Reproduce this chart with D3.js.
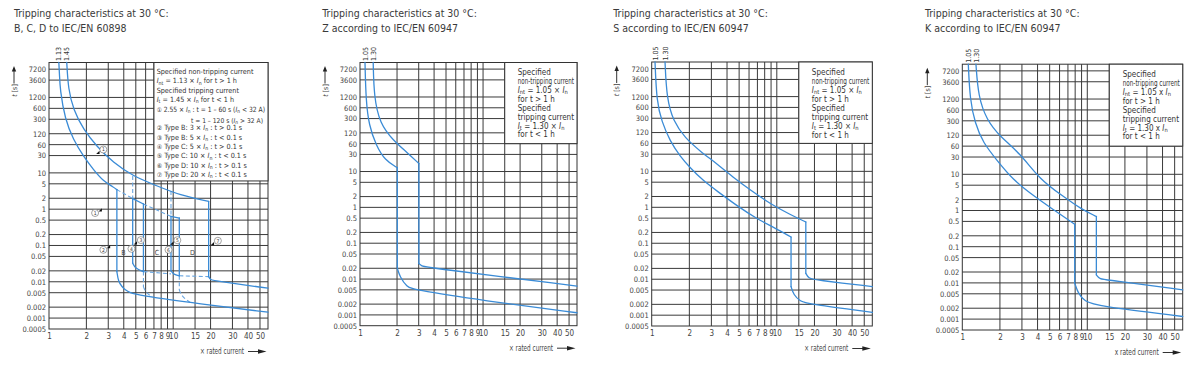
<!DOCTYPE html>
<html lang="en">
<head>
<meta charset="UTF-8">
<title>Tripping characteristics</title>
<script src="https://d3js.org/d3.v7.min.js"></script>
<style>
    body { margin: 0; background: #fff; }
    svg { display: block; font-family: "Liberation Sans Narrow", "Arial Narrow", "DejaVu Sans Condensed", sans-serif; }
    .grid line { stroke: #3a3a3a; stroke-width: 1; }
    .frame { fill: none; stroke: #333; stroke-width: 1; }
    .legendBox { fill: #fff; stroke: #333; stroke-width: 1; }
    .curve { fill: none; stroke: #3a8bd6; stroke-width: 1.3; stroke-linecap: round; }
    .curve.dashed { stroke: #6aa6e0; stroke-width: 1.1; stroke-dasharray: 4 2.5; stroke-linecap: butt; }
    .title { font-size: 10.5px; fill: #3a3a3a; }
    .legend text { fill: #333; }
    .note { font-size: 7px; fill: #444; }
</style>
</head>
<body>
<svg width="1196" height="366"></svg>
<script>
    // ticks shared by all four panels
    const xTicks = [1, 2, 3, 4, 5, 6, 7, 8, 9, 10, 15, 20, 30, 40, 50];
    const yTicks = [7200, 3600, 1200, 600, 300, 120, 60, 30, 10, 5, 2, 1, 0.5, 0.2, 0.1, 0.05, 0.02, 0.01, 0.005, 0.002, 0.001, 0.0005];
    const xDomain = [1, 58];
    const yDomain = [0.0005, 11000];

    const titleLine1 = "Tripping characteristics at 30 °C:";
    const subtitles = ["B, C, D to IEC/EN 60898", "Z according to IEC/EN 60947", "S according to IEC/EN 60947", "K according to IEC/EN 60947"];
    const xAxisNames = ["× rated current", "× rated current", "× rated current", "x rated current"];
    const limitLabels = [["1.13", "1.45"], ["1.05", "1.30"], ["1.05", "1.30"], ["1.05", "1.30"]];

    // [x rated current, t in s]
    // B, C, D
    const bcdNonTrip = [[1.20, 11000], [1.215, 5200], [1.227, 2000], [1.346, 297], [1.57, 83], [1.89, 28.8], [2.28, 12.3], [2.74, 5.9], [3.30, 4.1], [3.52, 3.46],
        [3.52, 0.0191], [3.62, 0.0101], [3.86, 0.0074], [4.10, 0.006], [4.50, 0.005], [5.10, 0.00435], [16.5, 0.00246], [58, 0.00145]];
    const bcdTrip = [[1.39, 11000], [1.43, 2000], [1.57, 561], [1.89, 157], [2.42, 54.3], [3.30, 18.9], [4.78, 8.06], [7.16, 4.6], [11.4, 2.40], [19.3, 1.64],
        [19.3, 0.0139], [19.9, 0.0113], [21.8, 0.0106], [58, 0.00665]];
    const bLeft = [[4.72, 1.95], [4.72, 0.0327], [4.94, 0.0234], [5.76, 0.0191]];
    const bRight = [[5.76, 1.39], [5.76, 0.0191]];
    const bTop = [[4.72, 1.95], [5.76, 1.39]];
    const cLeft = [[9.6, 0.632], [9.6, 0.02], [10.1, 0.0158], [11.2, 0.0146]];
    const cRight = [[11.2, 0.571], [11.2, 0.0146]];
    const cTop = [[9.6, 0.632], [11.2, 0.571]];
    const bcdDashA = [[3.52, 3.46], [4.72, 1.95]];
    const bcdDashB = [[5.76, 1.39], [9.6, 0.632]];
    const bDashUp = [[4.72, 8.2], [4.72, 1.95]];
    const cDashUp = [[9.6, 3.15], [9.6, 0.632]];
    const bcDashBottom = [[5.76, 0.0191], [9.6, 0.0165]];
    const cdDashBottom = [[11.2, 0.0146], [19.3, 0.0139]];
    const bDashDown = [[5.76, 0.0191], [5.76, 0.00723], [6.06, 0.00493], [6.77, 0.00383]];
    const cDashDown = [[11.2, 0.0146], [11.2, 0.00597], [11.8, 0.00383], [13.7, 0.0027]];
    const bcdMarks = [["1", 2.74, 44, "ll"], ["1", 2.35, 0.785, "ur"], ["2", 2.74, 0.076, "ur"], ["4", 4.61, 0.081, ""],
        ["3", 5.49, 0.141, "ll"], ["6", 9.17, 0.076, ""], ["5", 10.8, 0.14, "ll"], ["7", 22.9, 0.135, "ll"]];
    const bcdLetters = [["B", 3.97, 0.066], ["C", 7.39, 0.066], ["D", 14.3, 0.066]];

    // Z
    const zNonTrip = [[1.098, 11000], [1.118, 950], [1.183, 195], [1.35, 54], [1.595, 20.6], [2.01, 12.8],
        [2.01, 0.0199], [2.11, 0.0116], [2.39, 0.0061], [2.79, 0.00493], [13.7, 0.00217], [58, 0.00115]];
    const zTrip = [[1.28, 11000], [1.30, 1196], [1.45, 217], [1.86, 74.5], [2.39, 35.1], [3.01, 16.7],
        [3.01, 0.0273], [3.17, 0.023], [3.47, 0.0212], [58, 0.00638]];

    // S
    const sNonTrip = [[1.063, 11000], [1.096, 869], [1.202, 245], [1.401, 68.8], [1.684, 26.6], [2.025, 12.6], [2.59, 5.44], [3.31, 2.88], [4.79, 1.11], [6.92, 0.479], [9.39, 0.281], [13.0, 0.149],
        [13.0, 0.00625], [13.6, 0.00369], [15.4, 0.00242], [17.9, 0.00205], [58, 0.0012]];
    const sTrip = [[1.278, 11000], [1.318, 1072], [1.489, 245], [1.847, 84.8], [2.435, 36.5], [3.36, 15.7], [4.64, 6.17], [6.11, 3.07], [8.84, 1.26], [12.78, 0.63], [17.06, 0.391],
        [17.06, 0.0146], [17.9, 0.01066], [20.3, 0.00957], [58, 0.00625]];

    // K
    const kNonTrip = [[1.117, 11000], [1.152, 1143], [1.263, 260], [1.47, 72.8], [1.88, 25.2], [2.54, 7.05], [3.67, 2.63], [5.30, 1.079], [7.93, 0.416],
        [7.93, 0.00987], [8.43, 0.00523], [9.54, 0.00306], [11.82, 0.00233], [58, 0.00118]];
    const kTrip = [[1.286, 11000], [1.342, 1410], [1.565, 320], [2.0, 111], [2.89, 38.5], [4.2, 7.05], [6.25, 2.63], [8.97, 1.079], [11.82, 0.683],
        [11.82, 0.0167], [12.56, 0.0127], [14.6, 0.0122], [58, 0.00645]];

    // legend texts: [text, style] parts, style "i" = italic, "sub" = subscript, "c" = circled number
    const bcdLegend = [
        [["Specified non-tripping current"]],
        [["I", "i"], ["nt", "sub"], [" = 1.13 × "], ["I", "i"], ["n", "sub"], [" for t > 1 h"]],
        [["Specified tripping current"]],
        [["I", "i"], ["t", "sub"], [" = 1.45 × "], ["I", "i"], ["n", "sub"], [" for t < 1 h"]],
        [["①", "c"], [" 2.55 × "], ["I", "i"], ["n", "sub"], [" : t = 1 – 60 s ("], ["I", "i"], ["n", "sub"], [" < 32 A)"]],
        [["t = 1 – 120 s ("], ["I", "i"], ["n", "sub"], [" > 32 A)"]],
        [["②", "c"], [" Type B: 3 × "], ["I", "i"], ["n", "sub"], [" : t > 0.1 s"]],
        [["③", "c"], [" Type B: 5 × "], ["I", "i"], ["n", "sub"], [" : t < 0.1 s"]],
        [["④", "c"], [" Type C: 5 × "], ["I", "i"], ["n", "sub"], [" : t > 0.1 s"]],
        [["⑤", "c"], [" Type C: 10 × "], ["I", "i"], ["n", "sub"], [" : t < 0.1 s"]],
        [["⑥", "c"], [" Type D: 10 × "], ["I", "i"], ["n", "sub"], [" : t > 0.1 s"]],
        [["⑦", "c"], [" Type D: 20 × "], ["I", "i"], ["n", "sub"], [" : t < 0.1 s"]]
    ];
    const bcdLegendRight = [5];
    const zsLegend = [
        [["Specified"]],
        [["non-tripping current"]],
        [["I", "i"], ["nt", "sub"], [" = 1.05 × "], ["I", "i"], ["n", "sub"]],
        [["for t > 1 h"]],
        [["Specified"]],
        [["tripping current"]],
        [["I", "i"], ["t", "sub"], [" = 1.30 × "], ["I", "i"], ["n", "sub"]],
        [["for t < 1 h"]]
    ];
    const kLegend = [
        [["Specified"]],
        [["non-tripping current"]],
        [["I", "i"], ["nt", "sub"], [" = 1.05 x "], ["I", "i"], ["n", "sub"]],
        [["for t > 1 h"]],
        [["Specified"]],
        [["tripping current"]],
        [["I", "i"], ["t", "sub"], [" = 1.30 x "], ["I", "i"], ["n", "sub"]],
        [["for t < 1 h"]]
    ];

    let svg = d3.select('svg');

    let panels = [
        {left: 49, right: 268, top: 62.5, bottom: 329, titleX: 14, legend: bcdLegend, legendRight: bcdLegendRight, legendAt: [7, 6],
            legendFont: 7.2, legendDx: 2.7, legendDy: 11.5, legendStep: 9.38,
            solid: [bcdNonTrip, bcdTrip, bLeft, bRight, bTop, cLeft, cRight, cTop],
            dashed: [bcdDashA, bcdDashB, bDashUp, cDashUp, bcDashBottom, cdDashBottom, bDashDown, cDashDown]},
        {left: 360, right: 577, top: 62.5, bottom: 325.7, titleX: 322.3, legend: zsLegend, legendRight: [], legendAt: [15, 60],
            legendFont: 8, legendDx: 13, legendDy: 12.9, legendStep: 8.85, solid: [zNonTrip, zTrip], dashed: []},
        {left: 651.7, right: 872.3, top: 62, bottom: 326, titleX: 613.3, legend: zsLegend, legendRight: [], legendAt: [15, 60],
            legendFont: 8, legendDx: 13, legendDy: 13, legendStep: 8.95, solid: [sNonTrip, sTrip], dashed: []},
        {left: 962.3, right: 1182.7, top: 64.2, bottom: 330, titleX: 925, legend: kLegend, legendRight: [], legendAt: [15, 60],
            legendFont: 8, legendDx: 13.4, legendDy: 13.2, legendStep: 8.85, solid: [kNonTrip, kTrip], dashed: []}
    ];

    function richText(sel, parts) {
        let shifted = false;
        parts.forEach(function (p) {
            let ts = sel.append('tspan').text(p[0]);
            if (p[1] === 'i') ts.attr('font-style', 'italic');
            if (p[1] === 'c') ts.attr('font-family', '"DejaVu Sans", sans-serif').attr('font-size', '0.85em');
            if (p[1] === 'sub') {
                ts.attr('font-size', '0.72em').attr('dy', 1.2);
                shifted = true;
            } else if (shifted) {
                ts.attr('dy', -1.2);
                shifted = false;
            }
        });
    }

    // squeeze a text element if it is wider than the room it has
    function fit(t, avail) {
        if (t.node().getComputedTextLength() > avail) {
            t.attr('textLength', avail).attr('lengthAdjust', 'spacingAndGlyphs');
        }
    }

    // cut a boundary into smooth arcs and straight vertical drops
    function pieces(pts) {
        let out = [], cur = [pts[0]];
        for (let k = 1; k < pts.length; k++) {
            if (pts[k][0] === pts[k - 1][0]) {
                if (cur.length > 1) out.push({pts: cur, straight: false});
                out.push({pts: [pts[k - 1], pts[k]], straight: true});
                cur = [pts[k]];
            } else {
                cur.push(pts[k]);
            }
        }
        if (cur.length > 1) out.push({pts: cur, straight: false});
        return out;
    }

    panels.forEach(function (p, i) {
        let g = svg.append('g');
        let xScale = d3.scaleLog().domain(xDomain).range([p.left, p.right]);
        let yScale = d3.scaleLog().domain(yDomain).range([p.bottom, p.top]);

        // titles
        g.append('text').attr('class', 'title').attr('x', p.titleX).attr('y', 17).text(titleLine1);
        g.append('text').attr('class', 'title').attr('x', p.titleX).attr('y', 31.5).text(subtitles[i]);

        // grid
        let grid = g.append('g').attr('class', 'grid');
        grid.selectAll('line.v').data(xTicks.slice(1)).join('line').attr('class', 'v')
            .attr('x1', d => xScale(d)).attr('x2', d => xScale(d)).attr('y1', p.top).attr('y2', p.bottom);
        grid.selectAll('line.h').data(yTicks.slice(0, -1)).join('line').attr('class', 'h')
            .attr('x1', p.left).attr('x2', p.right).attr('y1', d => yScale(d)).attr('y2', d => yScale(d));
        g.append('rect').attr('class', 'frame')
            .attr('x', p.left).attr('y', p.top).attr('width', p.right - p.left).attr('height', p.bottom - p.top);

        // axes
        let yAxis = g.append('g').attr('transform', 'translate(' + p.left + ',0)')
            .call(d3.axisLeft(yScale).tickValues(yTicks).tickSize(0).tickPadding(3).tickFormat(d => String(d)));
        yAxis.select('.domain').remove();
        yAxis.attr('font-family', null).attr('font-size', 7.5).attr('color', '#444');
        let xAxis = g.append('g').attr('transform', 'translate(0,' + p.bottom + ')')
            .call(d3.axisBottom(xScale).tickValues(xTicks).tickSize(0).tickPadding(4.3).tickFormat(d3.format('d')));
        xAxis.select('.domain').remove();
        xAxis.attr('font-family', null).attr('font-size', 8).attr('color', '#444');

        // x axis name with arrow
        let ay = p.bottom + 22.5;
        let xName = g.append('text').attr('x', p.right - 68).attr('y', ay + 2.7)
            .attr('font-size', 8).attr('fill', '#444').text(xAxisNames[i]);
        fit(xName, 44);
        g.append('line').attr('x1', p.right - 20).attr('x2', p.right - 9).attr('y1', ay).attr('y2', ay)
            .attr('stroke', '#333').attr('stroke-width', 1);
        g.append('path').attr('d', 'M' + (p.right - 10) + ',' + (ay - 2.2) + 'L' + (p.right - 1.5) + ',' + ay + 'L' + (p.right - 10) + ',' + (ay + 2.2) + 'Z')
            .attr('fill', '#222');

        // y axis name with arrow
        let ax = p.left - 35;
        g.append('line').attr('x1', ax).attr('x2', ax).attr('y1', p.top + 21).attr('y2', p.top + 8)
            .attr('stroke', '#333').attr('stroke-width', 1);
        g.append('path').attr('d', 'M' + (ax - 2.2) + ',' + (p.top + 9) + 'L' + ax + ',' + (p.top + 3.5) + 'L' + (ax + 2.2) + ',' + (p.top + 9) + 'Z')
            .attr('fill', '#222');
        let yName = g.append('text').attr('transform', 'translate(' + (ax + 2.5) + ',' + (p.top + 28) + ') rotate(-90)')
            .attr('text-anchor', 'middle').attr('font-size', 7).attr('fill', '#444');
        richText(yName, [['t', 'i'], [' [s]']]);

        // legend box
        let lx = xScale(p.legendAt[0]), ly = yScale(p.legendAt[1]);
        g.append('rect').attr('class', 'legendBox').attr('x', lx).attr('y', p.top).attr('width', p.right - lx).attr('height', ly - p.top);
        let lg = g.append('g').attr('class', 'legend').attr('font-size', p.legendFont);
        p.legend.forEach(function (parts, j) {
            let right = p.legendRight.indexOf(j) >= 0;
            let t = lg.append('text')
                .attr('x', right ? p.right - 5 : lx + p.legendDx)
                .attr('y', p.top + p.legendDy + j * p.legendStep + (right ? 1.8 : 0))
                .attr('text-anchor', right ? 'end' : 'start')
                .attr('font-size', right ? p.legendFont - 0.5 : null);
            richText(t, parts);
            fit(t, p.right - 3 - (lx + p.legendDx));
        });

        // curves
        let smooth = d3.line().x(d => xScale(d[0])).y(d => yScale(d[1])).curve(d3.curveBasis);
        let straight = d3.line().x(d => xScale(d[0])).y(d => yScale(d[1]));
        let draw = function (d) { return d.straight ? straight(d.pts) : smooth(d.pts); };
        g.selectAll('path.dashed').data(p.dashed.flatMap(pieces)).join('path').attr('class', 'curve dashed').attr('d', draw);
        g.selectAll('path.solid').data(p.solid.flatMap(pieces)).join('path').attr('class', 'curve solid').attr('d', draw);

        // limit labels above the plot
        limitLabels[i].forEach(function (lab, j) {
            let xv = p.solid[j][0][0];
            g.append('text').attr('transform', 'translate(' + (xScale(xv) + 2.6) + ',' + (p.top - 1.5) + ') rotate(-90)')
                .attr('font-size', 7).attr('fill', '#333').text(lab);
        });
    });

    // numbered marks for the B, C, D panel
    let p0 = panels[0];
    let x0 = d3.scaleLog().domain(xDomain).range([p0.left, p0.right]);
    let y0 = d3.scaleLog().domain(yDomain).range([p0.bottom, p0.top]);
    let marks = svg.append('g');
    bcdMarks.forEach(function (m) {
        let cx = x0(m[1]), cy = y0(m[2]);
        let mg = marks.append('g').attr('transform', 'translate(' + cx + ',' + cy + ')');
        mg.append('circle').attr('r', 3.5).attr('fill', '#fff').attr('stroke', '#666').attr('stroke-width', 0.6);
        mg.append('text').attr('text-anchor', 'middle').attr('dy', 1.8).attr('font-size', 5).attr('fill', '#333').text(m[0]);
        if (m[3] === 'ur') {
            mg.append('path').attr('d', 'M3.5,-1.5L6.8,-4.8L6.8,-1.5Z').attr('fill', '#111');
        } else if (m[3] === 'll') {
            mg.append('path').attr('d', 'M-7.2,4.5L-3.8,1.2L-3.8,4.5Z').attr('fill', '#111');
        }
    });
    bcdLetters.forEach(function (l) {
        marks.append('text').attr('class', 'note').attr('x', x0(l[1])).attr('y', y0(l[2]) + 2.5)
            .attr('text-anchor', 'middle').text(l[0]);
    });
</script>
</body>
</html>
